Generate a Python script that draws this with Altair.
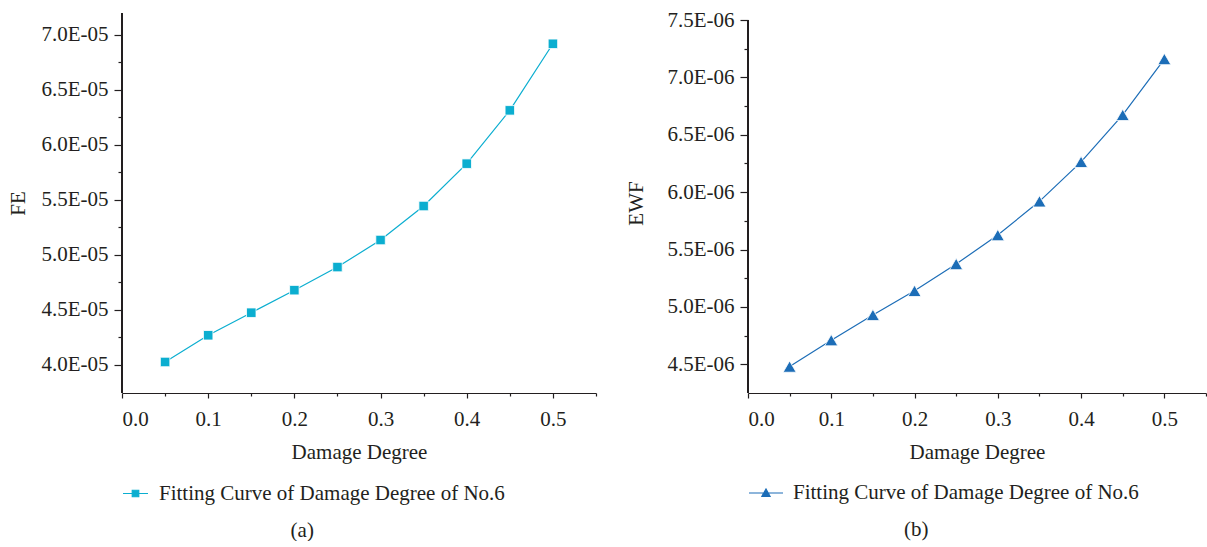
import altair as alt
import pandas as pd

# ---------------- data ----------------
damage = [0.05, 0.10, 0.15, 0.20, 0.25, 0.30, 0.35, 0.40, 0.45, 0.50]
fe = [4.027e-5, 4.270e-5, 4.475e-5, 4.680e-5, 4.890e-5, 5.136e-5, 5.445e-5, 5.830e-5, 6.315e-5, 6.920e-5]
ewf = [4.480e-6, 4.710e-6, 4.930e-6, 5.140e-6, 5.374e-6, 5.626e-6, 5.920e-6, 6.264e-6, 6.673e-6, 7.160e-6]
series_name = "Fitting Curve of Damage Degree of No.6"

x_major = [0.0, 0.1, 0.2, 0.3, 0.4, 0.5]
x_minor = [0.05, 0.15, 0.25, 0.35, 0.45, 0.55]
fe_major = [4.0e-5, 4.5e-5, 5.0e-5, 5.5e-5, 6.0e-5, 6.5e-5, 7.0e-5]
fe_minor = [4.25e-5, 4.75e-5, 5.25e-5, 5.75e-5, 6.25e-5, 6.75e-5]
ewf_major = [4.5e-6, 5.0e-6, 5.5e-6, 6.0e-6, 6.5e-6, 7.0e-6, 7.5e-6]
ewf_minor = [4.75e-6, 5.25e-6, 5.75e-6, 6.25e-6, 6.75e-6, 7.25e-6]

FONT = "Liberation Serif"
FS = 21
TXT = "#231F20"
CYAN = "#0BAED0"
BLUE = "#1C6DB7"


def panel(vals, ytitle, ydomain, axis_span, ymajor, yminor, scale_pow, exp_label, color,
          sym_path, sym_size, label_offset, mshape, msize, width, height,
          caption, title_pad, legend_y, cap_offset):
    df = pd.DataFrame({"Damage": damage, "Value": vals, "Series": [series_name] * len(damage)})
    xs = alt.Scale(domain=[0, 0.55], nice=False, zero=False)
    ys = alt.Scale(domain=ydomain, nice=False, zero=False)
    base = alt.Chart(df)
    line = base.mark_line(strokeWidth=1.2, color=color).encode(
        x=alt.X("Damage:Q", scale=xs,
                axis=alt.Axis(values=x_major, format=".1f", tickSize=5, orient="bottom",
                              title="Damage Degree", labelPadding=10, titlePadding=12, grid=False)),
        y=alt.Y("Value:Q", scale=ys,
                axis=alt.Axis(values=ymajor, tickSize=8, orient="left", title=ytitle,
                              labelExpr="format(datum.value*%s, '.1f') + '%s'" % (scale_pow, exp_label),
                              labelPadding=6, titlePadding=title_pad, grid=False, domain=False)),
    )
    yaxis_line = base.mark_rule(color=TXT, strokeWidth=1.2).encode(
        x=alt.value(0),
        y=alt.Y(datum=axis_span[0], type="quantitative", scale=ys, axis=None),
        y2=alt.Y2(datum=axis_span[1]),
    )
    pts = base.mark_point(shape=mshape, size=msize, filled=True, opacity=1,
                          stroke="white", strokeWidth=0.8).encode(
        x=alt.X("Damage:Q", scale=xs,
                axis=alt.Axis(values=x_minor, labels=False, tickSize=3, domain=False,
                              title=None, orient="bottom", grid=False)),
        y=alt.Y("Value:Q", scale=ys,
                axis=alt.Axis(values=yminor, labels=False, tickSize=4, domain=False,
                              title=None, orient="left", grid=False)),
        color=alt.Color("Series:N", scale=alt.Scale(range=[color]),
                        legend=alt.Legend(orient="none", legendX=0, legendY=legend_y,
                                          direction="horizontal", title=None,
                                          symbolType=sym_path, symbolSize=sym_size,
                                          symbolStrokeWidth=1.2, symbolFillColor=color,
                                          symbolStrokeColor=color, symbolOpacity=1,
                                          labelFont=FONT, labelFontSize=FS, labelColor=TXT,
                                          labelOffset=label_offset, padding=0,
                                          labelLimit=600)),
    )
    return alt.layer(yaxis_line, line, pts).resolve_axis(x="independent", y="independent").properties(
        width=width, height=height,
        title=alt.TitleParams(caption, orient="bottom", anchor="middle", frame="bounds",
                              offset=cap_offset, font=FONT, fontSize=FS, fontWeight="normal",
                              color=TXT),
    )


left = panel(fe, "FE", [3.745e-5, 7.2e-5], [3.745e-5, 7.2e-5], fe_major, fe_minor, "1e5", "E-05", CYAN,
             "M-1,0H1M-0.26,-0.26H0.26V0.26H-0.26Z", 625, 10, "square", 90, 474, 380,
             "(a)", 12, 467, 16)
right = panel(ewf, "EWF", [4.25e-6, 7.561e-6], [4.25e-6, 7.5e-6], ewf_major, ewf_minor, "1e6", "E-06", BLUE,
              "M-1,0H1M-0.24,0.2L0,-0.24L0.24,0.2Z", 1156, 9, "triangle-up", 170, 458, 380,
              "(b)", 20, 462, 16)

chart = alt.hconcat(left, right, spacing=28).resolve_scale(color="independent").properties(
    padding={"left": 7, "top": 9, "right": 0, "bottom": 0}
).configure(font=FONT).configure_axis(
    labelFont=FONT, labelFontSize=FS, labelColor=TXT,
    titleFont=FONT, titleFontSize=FS, titleFontWeight="normal", titleColor=TXT,
    domainColor=TXT, tickColor=TXT, domainWidth=1.2, tickWidth=1.2,
).configure_view(stroke=None)

chart.save("out.html", embed_options={"renderer": "svg", "actions": False})
